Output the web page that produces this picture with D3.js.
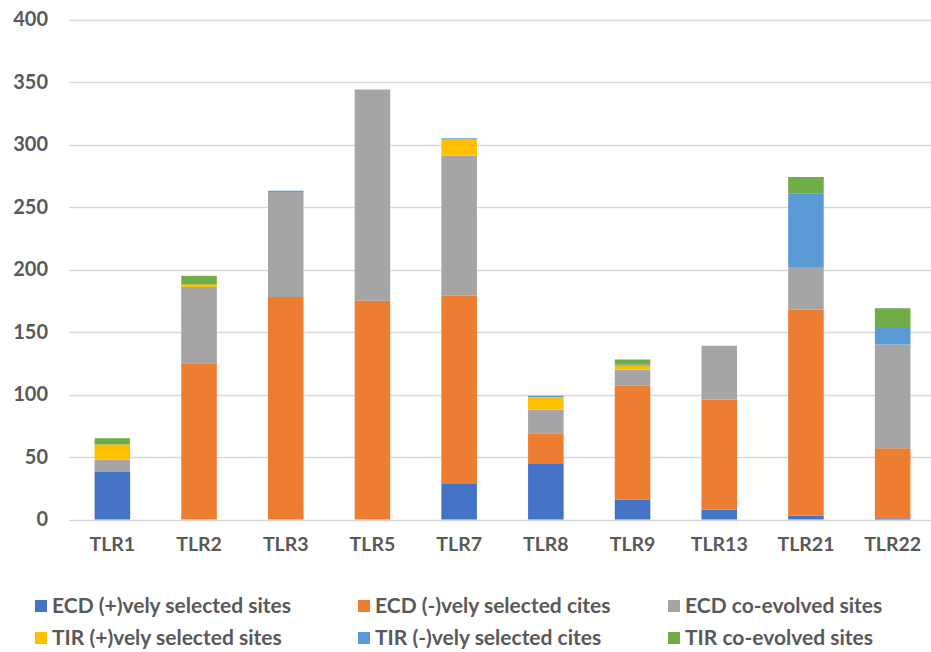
<!DOCTYPE html>
<html>
<head>
<meta charset="utf-8">
<script src="https://cdn.jsdelivr.net/npm/d3@7"></script>
<style>
  html, body { margin: 0; padding: 0; background: #fff; }
  svg { display: block; }
  text { font-family: Lato, "Open Sans", sans-serif; font-weight: bold; fill: #595959; }
</style>
</head>
<body>
<svg id="chart" width="931" height="652"></svg>
<script>
// Receptors on the x axis
const categories = ["TLR1", "TLR2", "TLR3", "TLR5", "TLR7", "TLR8", "TLR9", "TLR13", "TLR21", "TLR22"];

// Site counts per receptor, one array per stacked series
const ecdPositive = [38, 0, 0, 0, 29, 45, 16, 8, 3, 1];
const ecdNegative = [0, 125, 178, 175, 150, 24, 91, 88, 165, 56];
const ecdCoevolved = [10, 61, 84, 169, 112, 19, 13, 43, 34, 83];
const tirPositive = [12, 2, 0, 0, 13, 10, 3, 0, 0, 0];
const tirNegative = [0, 0, 1, 0, 1, 1, 1, 0, 59, 14];
const tirCoevolved = [5, 7, 0, 0, 0, 0, 4, 0, 13, 15];

const seriesNames = [
  "ECD (+)vely selected sites", "ECD (-)vely selected cites", "ECD co-evolved sites",
  "TIR (+)vely selected sites", "TIR (-)vely selected cites", "TIR co-evolved sites"
];
const seriesColors = ["#4472C4", "#ED7D31", "#A5A5A5", "#FFC000", "#5B9BD5", "#70AD47"];
const yTicks = [0, 50, 100, 150, 200, 250, 300, 350, 400];

const seriesValues = [ecdPositive, ecdNegative, ecdCoevolved, tirPositive, tirNegative, tirCoevolved];
const keys = seriesNames;
const rows = categories.map((c, i) => {
  const r = { category: c };
  keys.forEach((k, j) => { r[k] = seriesValues[j][i]; });
  return r;
});

const svg = d3.select("#chart");

const x = d3.scaleBand().domain(categories).range([69, 936]).paddingInner(0.59).paddingOuter(0.295);
const y = d3.scaleLinear().domain([0, 400]).range([519.5, 19.5]);

// Horizontal gridlines
svg.append("g")
  .selectAll("line")
  .data(yTicks)
  .join("line")
  .attr("x1", 69).attr("x2", 936)
  .attr("y1", d => Math.round(y(d)) + 0.5).attr("y2", d => Math.round(y(d)) + 0.5)
  .attr("stroke", "#D9D9D9").attr("stroke-width", 1.5);

// Y axis labels
const yAxis = d3.axisLeft(y).tickValues(yTicks).tickSize(0).tickPadding(0);
const yg = svg.append("g").attr("transform", "translate(48,0)").call(yAxis);
yg.select(".domain").remove();
yg.selectAll("text").style("font-size", "20px").attr("fill", "#595959");

// X axis labels
const xAxis = d3.axisBottom(x).tickSize(0).tickPadding(0);
const xg = svg.append("g").attr("transform", "translate(0,537)").call(xAxis);
xg.select(".domain").remove();
xg.selectAll("text").style("font-size", "19.5px").attr("fill", "#595959");

// Stacked bars
const stacked = d3.stack().keys(keys)(rows);
svg.append("g")
  .selectAll("g")
  .data(stacked)
  .join("g")
  .attr("fill", (d, i) => seriesColors[i])
  .selectAll("rect")
  .data(d => d)
  .join("rect")
  .attr("x", d => x(d.data.category))
  .attr("width", x.bandwidth())
  .attr("y", d => y(d[1]))
  .attr("height", d => Math.max(0, y(d[0]) - y(d[1])));

// Legend: three columns, two rows
const legendCols = [35, 358, 668];
const legendRows = [606, 638];
const legend = svg.append("g");
seriesNames.forEach((name, i) => {
  const cx = legendCols[i % 3];
  const cy = legendRows[Math.floor(i / 3)];
  const g = legend.append("g").attr("transform", `translate(${cx},${cy})`);
  g.append("rect").attr("x", 0).attr("y", -6).attr("width", 12).attr("height", 12)
    .attr("fill", seriesColors[i]);
  g.append("text").attr("x", 17).attr("y", 0).attr("dy", "0.35em")
    .style("font-size", "21px").text(name);
});
</script>
</body>
</html>
